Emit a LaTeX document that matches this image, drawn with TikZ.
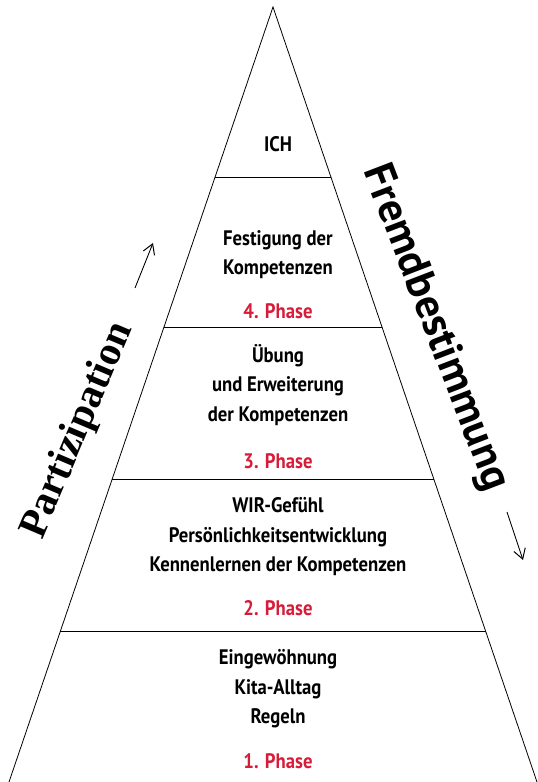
\documentclass[tikz,border=0pt]{standalone}
\usepackage{fontspec}
\newfontfamily\labelfont{PT Sans}[FakeStretch=0.89]
\newfontfamily\sidefont{PT Sans}
\newfontfamily\serifside{Liberation Serif}
\usetikzlibrary{positioning,calc,arrows.meta}
\definecolor{phasered}{RGB}{214,28,56}

\begin{document}
\begin{tikzpicture}
        [x=1pt,y=1pt,>={Straight Barb[length=10pt,width=12pt,line width=1pt]},
        stage/.style={align=center,font=\labelfont\bfseries\fontsize{21}{29.5}\selectfont},
        phase/.style={stage,text=phasered},
        side/.style={font=\serifside\bfseries\fontsize{41}{41}\selectfont}]

        \useasboundingbox (0,0) rectangle (538,782);

        % pyramid
        \coordinate (apex) at (273,775);
        \coordinate (bl) at (9,0);
        \coordinate (br) at (537,0);
        \draw[line width=0.8pt] (bl) -- (apex) -- (br);
        \foreach \t in {0.2194,0.4129,0.609,0.8052}
            \draw[line width=0.8pt] ($(apex)!\t!(bl)$) -- ($(apex)!\t!(br)$);

        % stages
        \node[stage] (ich) at (278,638) {ICH};
        \node[stage] (festigung) at (278,527.5) {Festigung der\\Kompetenzen};
        \node[phase] (phase4) at (278,471) {4. Phase};
        \node[stage] (uebung) at (278,397) {Übung\\und Erweiterung\\der Kompetenzen};
        \node[phase] (phase3) at (278,321) {3. Phase};
        \node[stage] (wir) at (278,245) {WIR-Gefühl\\Persönlichkeitsentwicklung\\Kennenlernen der Kompetenzen};
        \node[phase] (phase2) at (278,174) {2. Phase};
        \node[stage] (eingew) at (278,93) {Eingewöhnung\\Kita-Alltag\\Regeln};
        \node[phase] (phase1) at (278,21) {1. Phase};

        % sides
        \node[side,rotate=67] (partizipation) at (78,351) {Partizipation};
        \node[side,font=\sidefont\bfseries\fontsize{43}{43}\selectfont,rotate=-69] (fremd) at (435,454) {Fremdbestimmung};

        \coordinate (pstart) at (135,494);
        \coordinate (pend) at (153,539);
        \coordinate (fstart) at (507,270);
        \coordinate (fend) at (523,222);
        \draw[->,line width=0.9pt] (pstart) -- (pend);
        \draw[->,line width=0.9pt] (fstart) -- (fend);

    \end{tikzpicture}
\end{document}
